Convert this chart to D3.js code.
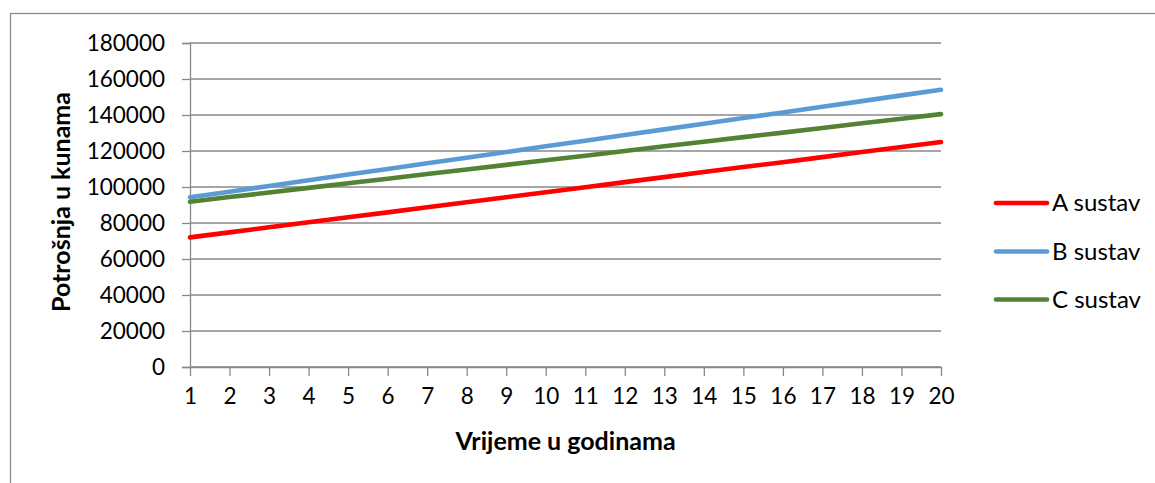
<!DOCTYPE html>
<html>
<head>
<meta charset="utf-8">
<script src="https://cdn.jsdelivr.net/npm/d3@7"></script>
<style>
  html, body { margin: 0; padding: 0; background: #ffffff; }
  svg { display: block; font-family: Lato, "Open Sans", sans-serif; }
</style>
</head>
<body>
<svg id="chart" width="1155" height="483"></svg>
<script>
const years = ["1","2","3","4","5","6","7","8","9","10","11","12","13","14","15","16","17","18","19","20"];
const seriesA = [72000, 74800, 77600, 80400, 83200, 85900, 88700, 91500, 94300, 97100, 99900, 102700, 105500, 108300, 111100, 113800, 116600, 119400, 122200, 125000];
const seriesB = [94300, 97400, 100600, 103700, 106900, 110000, 113200, 116300, 119400, 122600, 125700, 128900, 132000, 135100, 138300, 141400, 144600, 147700, 150900, 154000];
const seriesC = [91800, 94400, 96900, 99500, 102100, 104600, 107200, 109700, 112300, 114900, 117400, 120000, 122600, 125100, 127700, 130200, 132800, 135400, 137900, 140500];
const seriesNames = ["A sustav", "B sustav", "C sustav"];
const yTicks = [0, 20000, 40000, 60000, 80000, 100000, 120000, 140000, 160000, 180000];
const xTitle = "Vrijeme u godinama";
const yTitle = "Potrošnja u kunama";

const colors = ["#ff0000", "#5b9bd5", "#548235"];
const series = [seriesA, seriesB, seriesC];

const svg = d3.select("#chart");
const gridColor = "#888888";

// outer frame (only top and left visible in the crop)
svg.append("rect")
  .attr("x", 10.5).attr("y", 13.5)
  .attr("width", 1300).attr("height", 600)
  .attr("fill", "none").attr("stroke", "#8c8c8c").attr("stroke-width", 1.3);

const x = d3.scalePoint().domain(years).range([190, 941]).padding(0);
const y = d3.scaleLinear().domain([0, 180000]).range([367, 43]);

// gridlines + y ticks
const yAxis = d3.axisLeft(y).tickValues(yTicks).tickSize(8).tickPadding(17).tickFormat(d3.format("d"));
const gy = svg.append("g").attr("transform", "translate(190,0)").call(yAxis);
gy.select(".domain").attr("stroke", gridColor).attr("stroke-width", 1.3);
gy.selectAll(".tick line").attr("stroke", gridColor).attr("stroke-width", 1.3);
gy.selectAll(".tick text").attr("fill", "#000").attr("font-size", "22.5px").attr("font-family", "Lato, sans-serif");

svg.append("g").selectAll("line").data(yTicks).join("line")
  .attr("x1", 190).attr("x2", 941)
  .attr("y1", d => y(d)).attr("y2", d => y(d))
  .attr("stroke", gridColor).attr("stroke-width", 1.3);

// x axis
const xAxis = d3.axisBottom(x).tickSize(9).tickSizeOuter(0).tickPadding(12);
const gx = svg.append("g").attr("transform", "translate(0,367)").call(xAxis);
gx.select(".domain").attr("stroke", gridColor).attr("stroke-width", 1.3);
gx.selectAll(".tick line").attr("stroke", gridColor).attr("stroke-width", 1.3);
gx.selectAll(".tick text").attr("fill", "#000").attr("font-size", "22.5px").attr("font-family", "Lato, sans-serif");

// lines
const line = d3.line().x((d, i) => x(years[i])).y(d => y(d));
svg.append("g").selectAll("path").data(series).join("path")
  .attr("d", d => line(d))
  .attr("fill", "none")
  .attr("stroke", (d, i) => colors[i])
  .attr("stroke-width", 4.6)
  .attr("stroke-linecap", "round")
  .attr("stroke-linejoin", "round");

// axis titles
svg.append("text")
  .attr("x", 565.5).attr("y", 450)
  .attr("text-anchor", "middle")
  .attr("font-size", "25px").attr("font-weight", "bold")
  .text(xTitle);

svg.append("text")
  .attr("transform", "translate(70,202) rotate(-90)")
  .attr("text-anchor", "middle")
  .attr("font-size", "25px").attr("font-weight", "bold")
  .text(yTitle);

// legend
const legendY = [203, 251.5, 299.5];
const lg = svg.append("g").selectAll("g").data(seriesNames).join("g")
  .attr("transform", (d, i) => `translate(0,${legendY[i]})`);
lg.append("line")
  .attr("x1", 996).attr("x2", 1047).attr("y1", 0).attr("y2", 0)
  .attr("stroke", (d, i) => colors[i]).attr("stroke-width", 4.6)
  .attr("stroke-linecap", "round");
lg.append("text")
  .attr("x", 1052).attr("y", 0).attr("dy", "0.35em")
  .attr("font-size", "24px")
  .text(d => d);
</script>
</body>
</html>
